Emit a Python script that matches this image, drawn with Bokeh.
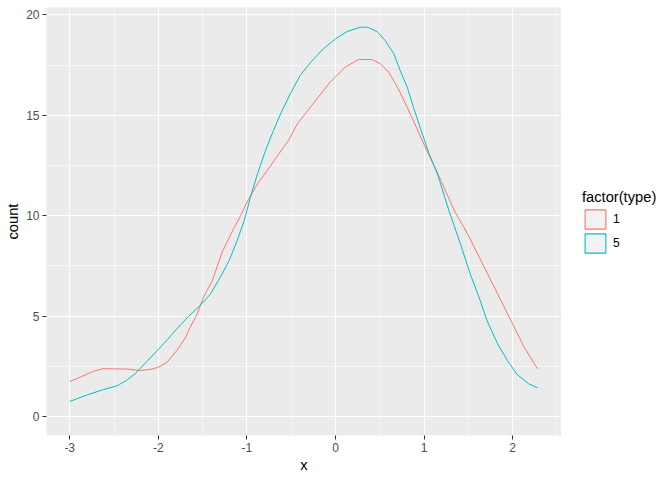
from bokeh.plotting import figure
from bokeh.layouts import row
from bokeh.models import (Range1d, FixedTicker, Legend, LegendItem, ColumnDataSource)
from bokeh.embed import file_html
from bokeh.resources import INLINE

# ---- data ----
x_red = [-3.00, -2.88, -2.73, -2.62, -2.35, -2.20, -2.07, -1.98, -1.90, -1.79, -1.69, -1.64,
         -1.56, -1.49, -1.39, -1.28, -1.17, -1.07, -0.98, -0.88, -0.77, -0.68, -0.53, -0.43,
         -0.24, -0.06, 0.11, 0.26, 0.41, 0.51, 0.60, 0.70, 0.81, 0.92, 1.03, 1.17, 1.34,
         1.49, 1.67, 1.83, 1.98, 2.13, 2.28]
y_red = [1.74, 1.96, 2.26, 2.38, 2.36, 2.29, 2.36, 2.49, 2.70, 3.29, 3.95, 4.45,
         5.11, 5.94, 6.77, 8.18, 9.18, 10.01, 10.84, 11.59, 12.25, 12.83, 13.75, 14.58,
         15.65, 16.65, 17.40, 17.78, 17.78, 17.56, 17.15, 16.40, 15.40, 14.33, 13.25, 11.95, 10.26,
         9.10, 7.52, 6.11, 4.78, 3.45, 2.38]

x_cyan = [-3.00, -2.80, -2.62, -2.46, -2.35, -2.26, -2.13, -2.01, -1.90, -1.79, -1.66, -1.52,
          -1.41, -1.30, -1.20, -1.11, -1.03, -0.96, -0.88, -0.79, -0.70, -0.62, -0.51, -0.40,
          -0.28, -0.15, 0.00, 0.13, 0.28, 0.36, 0.47, 0.56, 0.66, 0.73, 0.81, 0.88, 0.96,
          1.05, 1.15, 1.28, 1.41, 1.52, 1.62, 1.71, 1.83, 1.94, 2.05, 2.18, 2.28]
y_cyan = [0.75, 1.08, 1.34, 1.54, 1.83, 2.13, 2.74, 3.29, 3.82, 4.37, 4.98, 5.56,
          6.11, 6.94, 7.77, 8.76, 9.76, 10.92, 12.09, 13.25, 14.24, 15.07, 16.07, 16.98,
          17.64, 18.26, 18.81, 19.17, 19.39, 19.39, 19.17, 18.73, 18.06, 17.23, 16.40, 15.40, 14.33,
          13.16, 12.09, 10.26, 8.60, 7.11, 5.94, 4.78, 3.62, 2.79, 2.09, 1.63, 1.43]

type_labels = ["1", "5"]
colors = ["#F8766D", "#00BFC4"]

x_ticks = [-3, -2, -1, 0, 1, 2]
x_minor = [-2.5, -1.5, -0.5, 0.5, 1.5, 2.5]
y_ticks = [0, 5, 10, 15, 20]
y_minor = [2.5, 7.5, 12.5, 17.5]

FONT = "Liberation Sans"

p = figure(width=561, height=480, output_backend="svg", toolbar_location=None,
           x_range=Range1d(-3.262, 2.551), y_range=Range1d(-0.946, 20.37),
           min_border_left=46, min_border_right=0, min_border_top=7, min_border_bottom=45)

p.background_fill_color = "#EBEBEB"
p.border_fill_color = "white"
p.outline_line_color = None

for ax, ticks, minor in ((p.xaxis, x_ticks, x_minor), (p.yaxis, y_ticks, y_minor)):
    ax.ticker = FixedTicker(ticks=ticks, minor_ticks=minor)
    ax.axis_line_color = None
    ax.major_tick_line_color = "#333333"
    ax.major_tick_line_width = 1.1
    ax.major_tick_out = 4
    ax.major_tick_in = 0
    ax.minor_tick_line_color = None
    ax.major_label_text_font = FONT
    ax.major_label_text_font_size = "12px"
    ax.major_label_text_color = "#4D4D4D"
    ax.major_label_standoff = 3
    ax.axis_label_text_font = FONT
    ax.axis_label_text_font_size = "14.7px"
    ax.axis_label_text_font_style = "normal"
    ax.axis_label_text_color = "black"
    ax.axis_label_standoff = 2

p.xaxis.major_label_overrides = {t: str(t) for t in x_ticks}
p.xaxis.axis_label = "x"
p.yaxis.axis_label = "count"

for g in (p.xgrid, p.ygrid):
    g.grid_line_color = "white"
    g.grid_line_width = 1.1
    g.minor_grid_line_color = "white"
    g.minor_grid_line_width = 0.55

p.line(x_red, y_red, line_color=colors[0], line_width=1.0)
p.line(x_cyan, y_cyan, line_color=colors[1], line_width=1.0)

# ---- legend panel (separate figure to the right) ----
q = figure(width=111, height=480, output_backend="svg", toolbar_location=None,
           x_range=Range1d(0, 1), y_range=Range1d(0, 1),
           min_border_left=0, min_border_right=0, min_border_top=0, min_border_bottom=0)
q.axis.visible = False
q.grid.visible = False
q.outline_line_color = None
q.background_fill_color = "white"
q.border_fill_color = "white"

nan = float("nan")
items = []
for lab, col in zip(type_labels, colors):
    src = ColumnDataSource(dict(left=[nan], right=[nan], top=[nan], bottom=[nan]))
    r = q.quad(left="left", right="right", top="top", bottom="bottom", source=src,
               fill_color="#F2F2F2", line_color=col, line_width=1.1)
    items.append(LegendItem(label=lab, renderers=[r]))

legend = Legend(items=items, title="factor(type)", location=(21, 180),
                title_text_font=FONT, title_text_font_size="14.7px", title_text_font_style="normal",
                title_text_color="black",
                label_text_font=FONT, label_text_font_size="12px", label_text_color="black",
                glyph_width=26, glyph_height=24, spacing=0, padding=0, margin=0,
                label_standoff=5, title_standoff=2,
                border_line_color=None, background_fill_alpha=0)
q.add_layout(legend)

layout = row(p, q, spacing=0)
open("out.html", "w").write(file_html(layout, INLINE))
